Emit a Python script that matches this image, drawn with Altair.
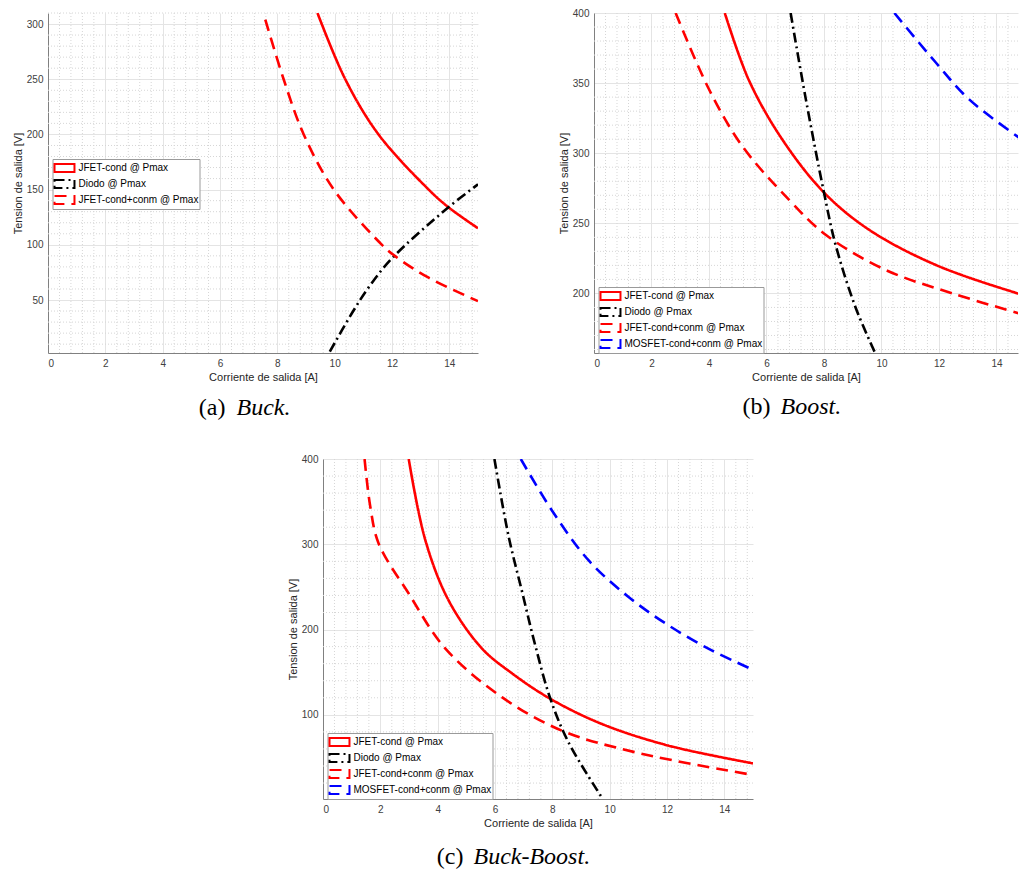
import altair as alt
import pandas as pd

# ---------------- curve samples (Corriente [A], Tension [V]) ----------------
# Buck
buck_jfet_x = [9.40, 10.37, 11.53, 13.28, 13.97, 15.0]
buck_jfet_y = [310, 250, 200, 150, 134, 115]
buck_diodo_x = [9.83, 10.6, 11.2, 12.0, 13.97, 15.0]
buck_diodo_y = [3.2, 38, 62, 87.8, 134, 154.8]
buck_jfet_conm_x = [7.58, 8.22, 8.92, 9.97, 11.65, 12.12, 13.28, 15.0]
buck_jfet_conm_y = [304, 250, 200, 150, 100, 89.5, 70.2, 49]

# Boost
boost_jfet_x = [4.55, 5.39, 6.55, 8.0, 9.57, 11.89, 14.74, 15.0]
boost_jfet_y = [400, 352, 309.8, 272, 245.4, 220.3, 200, 198.5]
boost_diodo_x = [6.84, 7.37, 8.0, 8.4, 9.1, 9.78]
boost_diodo_y = [400, 338.4, 272, 235, 190, 157.5]
boost_jfet_conm_x = [2.84, 4.0, 5.16, 6.78, 8.06, 10.15, 12.47, 15.0]
boost_jfet_conm_y = [400, 345.6, 305, 266.9, 241.8, 216.7, 200, 184.5]
boost_mosfet_x = [10.45, 11.89, 13.05, 15.0]
boost_mosfet_y = [400, 364.7, 338.4, 308]

# Buck-Boost
bb_jfet_x = [2.99, 3.57, 4.38, 5.54, 6.6, 7.93, 9.72, 12.05, 15.0]
bb_jfet_y = [400, 304.8, 234.3, 178, 148.5, 118.8, 89.4, 63.9, 43.1]
bb_diodo_x = [5.98, 6.47, 6.94, 7.40, 7.93, 8.56, 9.76]
bb_diodo_y = [400, 310, 245, 182, 119, 68, 1.3]
bb_jfet_conm_x = [1.45, 1.65, 1.94, 2.99, 4.27, 6.24, 8.33, 10.89, 15.0]
bb_jfet_conm_y = [400, 344, 301, 242.2, 177.6, 120.7, 81.5, 56.1, 29.5]
bb_mosfet_x = [6.9, 7.98, 9.26, 10.66, 12.05, 13.56, 15.0]
bb_mosfet_y = [400, 340, 281.3, 238.2, 205, 175.6, 152.9]

# ---------------- series styling ----------------
NAMES = ["JFET-cond @ Pmax", "Diodo @ Pmax", "JFET-cond+conm @ Pmax", "MOSFET-cond+conm @ Pmax"]
COLORS = ["#ff0000", "#000000", "#ff0000", "#0000ff"]
DASHES = [[1, 0], [10, 4, 2, 4], [12, 7], [12, 7]]

X_MAJOR = [0, 2, 4, 6, 8, 10, 12, 14]
FONT = "Liberation Sans"
SERIF = "Liberation Serif"
W, H = 430, 340
X_TITLE = "Corriente de salida [A]"
Y_TITLE = "Tension de salida [V]"


def frame(curves):
    rows = []
    for name, xs, ys in curves:
        for i, (x, y) in enumerate(zip(xs, ys)):
            rows.append({"x": x, "y": y, "s": name, "o": i})
    return pd.DataFrame(rows)


def panel(curves, xmax, ydom, ymajor, ystep, leg_y, tag, label, tag_x, label_x, cap_y, width=W):
    df = frame(curves)
    n = len(curves)
    xs = alt.Scale(domain=[0, xmax], nice=False, zero=False)
    ys = alt.Scale(domain=ydom, nice=False, zero=False)
    x_axis = alt.Axis(values=X_MAJOR, grid=True)
    y_axis = alt.Axis(values=ymajor, grid=True)

    x_minor = [round(0.4 * k, 2) for k in range(1, int(xmax / 0.4) + 1)]
    x_minor = [v for v in x_minor if abs(v / 2 - round(v / 2)) > 1e-6]
    y_minor = [v for v in range(int(ydom[0]) + 1, int(ydom[1]) + 1) if v % ystep == 0 and v not in ymajor]

    gx = alt.Chart(pd.DataFrame({"v": x_minor})).mark_rule(
        color="#d6d6d6", strokeWidth=1, strokeDash=[1, 2]
    ).encode(x=alt.X("v:Q", scale=xs, axis=x_axis, title=X_TITLE))
    gy = alt.Chart(pd.DataFrame({"v": y_minor})).mark_rule(
        color="#d6d6d6", strokeWidth=1, strokeDash=[1, 2]
    ).encode(y=alt.Y("v:Q", scale=ys, axis=y_axis, title=Y_TITLE))

    leg = alt.Legend(
        title=None, orient="none", legendX=4.5, legendY=leg_y,
        symbolType="M-1.48,-0.59H1.48V0.59H-1.48Z", symbolSize=182, symbolStrokeWidth=2,
        symbolOffset=3,
        labelFont=FONT, labelFontSize=10, labelColor="#000000", labelOffset=6, labelLimit=400,
        fillColor="#ffffff", strokeColor="#9a9a9a", padding=1, rowPadding=0,
    )
    lines = alt.Chart(df).mark_line(strokeWidth=2.6, clip=True, interpolate="catmull-rom").encode(
        x=alt.X("x:Q", scale=xs, title=X_TITLE, axis=x_axis),
        y=alt.Y("y:Q", scale=ys, title=Y_TITLE, axis=y_axis),
        color=alt.Color("s:N", scale=alt.Scale(domain=NAMES[:n], range=COLORS[:n]), legend=leg),
        strokeDash=alt.StrokeDash("s:N", scale=alt.Scale(domain=NAMES[:n], range=DASHES[:n]), legend=leg),
        order="o:Q",
    )
    cap_tag = alt.Chart(pd.DataFrame({"t": [tag]})).mark_text(
        font=SERIF, fontSize=24, align="right", baseline="alphabetic", color="#000000"
    ).encode(text="t:N", x=alt.value(tag_x), y=alt.value(cap_y))
    cap_lab = alt.Chart(pd.DataFrame({"t": [label]})).mark_text(
        font=SERIF, fontSize=24, fontStyle="italic", align="left", baseline="alphabetic", color="#000000"
    ).encode(text="t:N", x=alt.value(label_x), y=alt.value(cap_y))
    return alt.layer(gx, gy, lines, cap_tag, cap_lab).properties(width=width, height=H)


buck = panel(
    [(NAMES[0], buck_jfet_x, buck_jfet_y),
     (NAMES[1], buck_diodo_x, buck_diodo_y),
     (NAMES[2], buck_jfet_conm_x, buck_jfet_conm_y)],
    15, [2, 310], [50, 100, 150, 200, 250, 300], 10, 146,
    "(a)", "Buck.", 177.5, 188.5, 402,
)
boost = panel(
    [(NAMES[0], boost_jfet_x, boost_jfet_y),
     (NAMES[1], boost_diodo_x, boost_diodo_y),
     (NAMES[2], boost_jfet_conm_x, boost_jfet_conm_y),
     (NAMES[3], boost_mosfet_x, boost_mosfet_y)],
    14.75, [157.5, 400], [200, 250, 300, 350, 400], 10, 274,
    "(b)", "Boost.", 176.5, 186.5, 401, width=424,
)
buckboost = panel(
    [(NAMES[0], bb_jfet_x, bb_jfet_y),
     (NAMES[1], bb_diodo_x, bb_diodo_y),
     (NAMES[2], bb_jfet_conm_x, bb_jfet_conm_y),
     (NAMES[3], bb_mosfet_x, bb_mosfet_y)],
    15, [1.3, 400], [100, 200, 300, 400], 20, 274,
    "(c)", "Buck-Boost.", 140.5, 150.5, 405,
)

# empty cell that shifts the third panel towards the middle of the page
spacer = alt.Chart(pd.DataFrame({"t": [""]})).mark_text().encode(text="t:N").properties(width=239, height=H)

top = alt.hconcat(buck, boost, spacing=79).resolve_scale(color="independent", strokeDash="independent")
bottom = alt.hconcat(spacer, buckboost, spacing=0).resolve_scale(color="independent", strokeDash="independent")
chart = alt.vconcat(top, bottom, spacing=34).resolve_scale(
    color="independent", strokeDash="independent"
).properties(
    padding={"left": 12, "top": 8, "right": 0, "bottom": 0},
    background="#ffffff",
).configure_view(strokeWidth=0).configure_axis(
    domainColor="#808080", domainWidth=1, ticks=False,
    labelFont=FONT, labelFontSize=10, labelColor="#404040", labelPadding=5,
    titleFont=FONT, titleFontSize=11, titleFontWeight="normal", titleColor="#262626", titlePadding=3,
    gridColor="#e4e4e4", gridWidth=1,
)

chart.save("out.html", embed_options={"renderer": "svg", "actions": False})
